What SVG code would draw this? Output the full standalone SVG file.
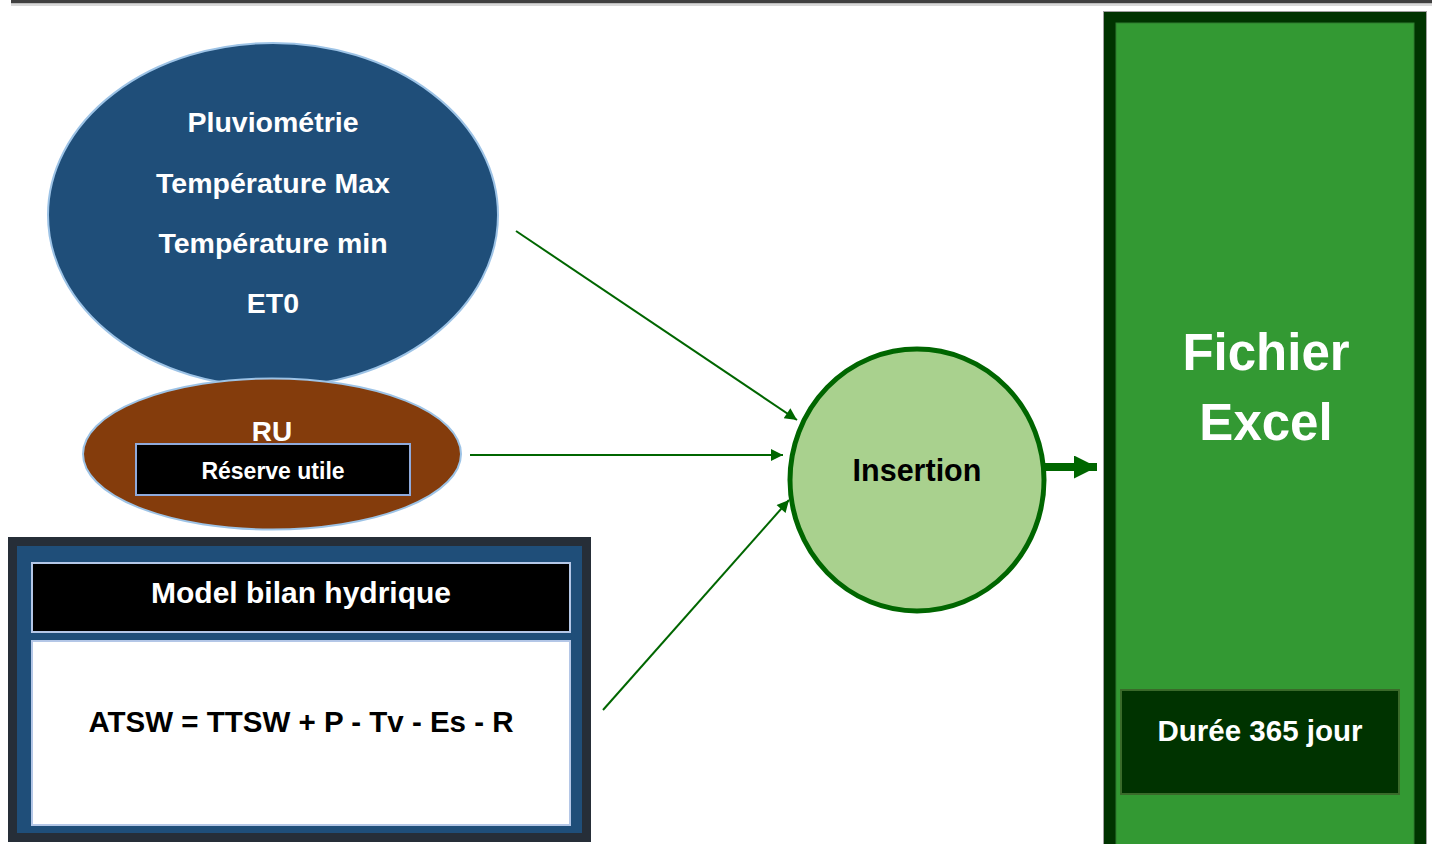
<svg xmlns="http://www.w3.org/2000/svg" width="1432" height="844" viewBox="0 0 1432 844">
<defs>
<style>
text{font-family:"Liberation Sans",Arial,sans-serif;font-weight:bold;text-anchor:middle}
.w{fill:#ffffff}
.k{fill:#000000}
.conn{stroke:#006600;stroke-width:2;fill:none}
.thick{stroke:#006600;stroke-width:8;fill:none}
</style>
<marker id="ah" viewBox="0 0 10 10" refX="10" refY="5" markerWidth="14" markerHeight="12" markerUnits="userSpaceOnUse" orient="auto">
<path d="M0,0 L10,5 L0,10 z" fill="#006600"/>
</marker>
<marker id="ahb" viewBox="0 0 10 10" refX="10" refY="5" markerWidth="24" markerHeight="23" markerUnits="userSpaceOnUse" orient="auto">
<path d="M0,0 L10,5 L0,10 z" fill="#006600"/>
</marker>
</defs>
<rect width="1432" height="844" fill="#ffffff"/>
<g id="topbar">
<rect x="11" y="0" width="1421" height="3.5" fill="#404040"/>
<rect x="11" y="3.5" width="1421" height="2.5" fill="#d9d9d9"/>
</g>
<g id="meteo">
<ellipse cx="273" cy="215" rx="225" ry="172" fill="#1f4e79" stroke="#9dc3e6" stroke-width="2"/>
<text class="w" x="273" y="132" font-size="28.5">Pluviométrie</text>
<text class="w" x="273" y="193" font-size="28.5">Température Max</text>
<text class="w" x="273" y="253" font-size="28.5">Température min</text>
<text class="w" x="273" y="313" font-size="28.5">ET0</text>
</g>
<g id="ru">
<ellipse cx="272" cy="454" rx="189" ry="75.5" fill="#843c0c" stroke="#9dc3e6" stroke-width="2"/>
<text class="w" x="272" y="441" font-size="28">RU</text>
<rect x="136" y="444" width="274" height="51" fill="#000000" stroke="#8faadc" stroke-width="2"/>
<text class="w" x="273" y="479" font-size="23">Réserve utile</text>
</g>
<g id="model">
<rect x="8" y="537" width="583" height="305" fill="#262e38"/>
<rect x="17" y="546" width="565" height="287" fill="#1f4e79"/>
<rect x="32" y="563" width="538" height="69" fill="#000000" stroke="#b4c7e7" stroke-width="2"/>
<text class="w" x="301" y="603" font-size="30">Model bilan hydrique</text>
<rect x="32" y="641" width="538" height="184" fill="#ffffff" stroke="#b4c7e7" stroke-width="2"/>
<text class="k" x="301" y="732" font-size="29.5">ATSW = TTSW + P - Tv - Es - R</text>
</g>
<g id="insertion">
<ellipse cx="917" cy="480" rx="127" ry="131" fill="#a9d18e" stroke="#006600" stroke-width="5"/>
<text class="k" x="917" y="481" font-size="30.5">Insertion</text>
</g>
<g id="excel">
<rect x="1103.5" y="11.5" width="323" height="840" fill="#003300" stroke="#a0a0a0" stroke-width="1"/>
<rect x="1116" y="23" width="298" height="830" fill="#339933" stroke="#2e7d2e" stroke-width="1"/>
<text class="w" x="1266" y="370" font-size="51">Fichier</text>
<text class="w" x="1266" y="440" font-size="51">Excel</text>
<rect x="1121" y="690" width="278" height="104" fill="#003300" stroke="#3a6a2a" stroke-width="2"/>
<text class="w" x="1260" y="741" font-size="29.5">Durée 365 jour</text>
</g>
<g id="connectors">
<line class="conn" x1="516" y1="231" x2="797" y2="420" marker-end="url(#ah)"/>
<line class="conn" x1="470" y1="455" x2="783" y2="455" marker-end="url(#ah)"/>
<line class="conn" x1="603" y1="710" x2="789" y2="500" marker-end="url(#ah)"/>
<line class="thick" x1="1045" y1="467" x2="1097" y2="467" marker-end="url(#ahb)"/>
</g>
</svg>
